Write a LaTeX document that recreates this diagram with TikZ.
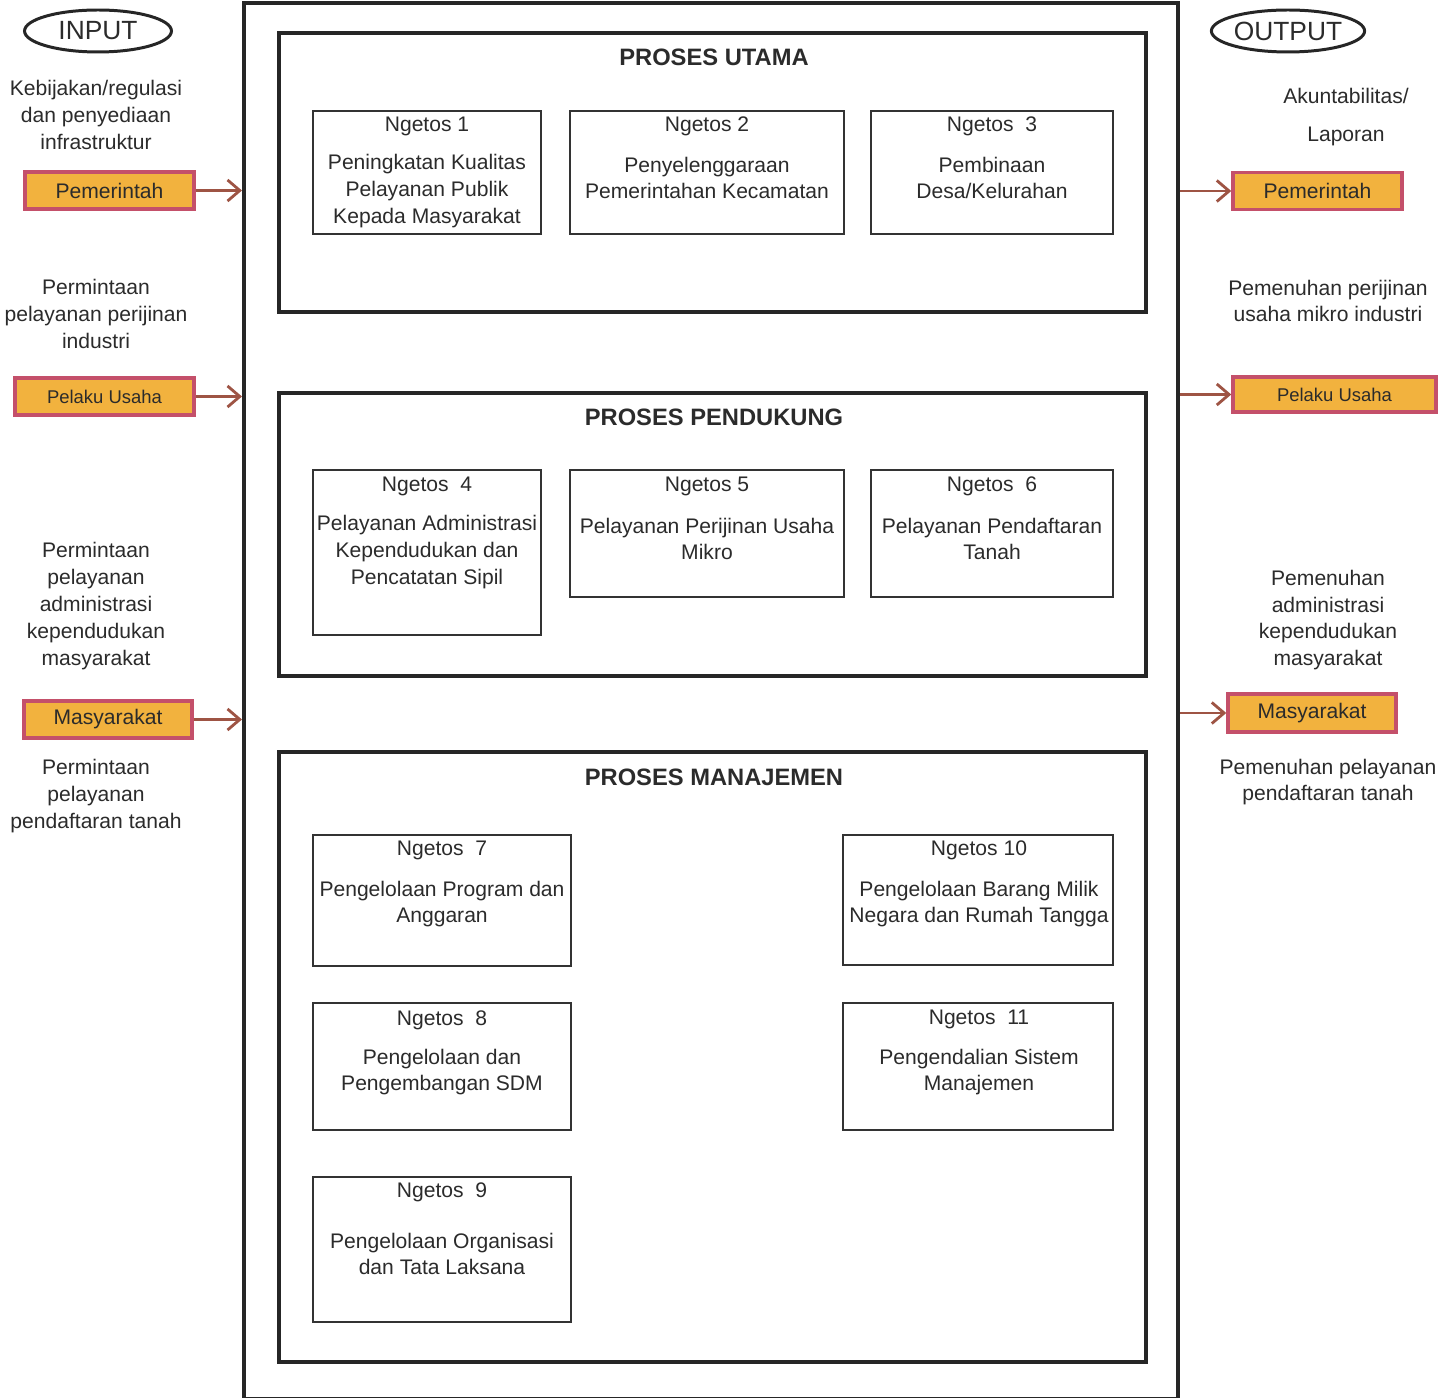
\documentclass[tikz,border=0pt]{standalone}
\usepackage{fontspec}
\setmainfont{Liberation Sans}
\usetikzlibrary{arrows.meta,fit,shapes.geometric}

\definecolor{actfill}{HTML}{F2B23E}
\definecolor{actline}{HTML}{C4506A}
\definecolor{flowcol}{HTML}{9E5444}
\definecolor{txt}{HTML}{2B2B2B}

\tikzset{
  mainbox/.style={draw=black!85, line width=2.3pt, inner sep=0pt},
  procbox/.style={draw=black!85, line width=2.2pt, inner sep=0pt},
  ngbox/.style={draw=black!80, line width=1.1pt, inner sep=0pt},
  actor/.style={draw=actline, fill=actfill, line width=2pt, inner sep=0pt, minimum width=3.38cm, minimum height=0.74cm},
  flow/.style={draw=flowcol, line width=1.6pt, -{Straight Barb[length=7pt,width=12pt,line width=1.6pt]}},
  tag/.style={ellipse, draw=black!85, line width=1.7pt, minimum width=2.94cm, minimum height=0.84cm, inner sep=0pt, font=\fontsize{15}{18}\selectfont},
  title/.style={font=\fontsize{13.5}{16}\selectfont\bfseries},
  note/.style={align=center},
}

\begin{document}
\begin{tikzpicture}[x=0.02cm, y=-0.02cm, every node/.style={text=txt, font=\fontsize{12}{15.3}\selectfont}]
\useasboundingbox (0,0) rectangle (1455,1398);

% main frame and the three process groups
\node[mainbox, fit={(244,3) (1178,1399)}] (main) {};
\node[procbox, fit={(279,33) (1146,312)}] (utama) {};
\node[procbox, fit={(279,393) (1146,676)}] (pendukung) {};
\node[procbox, fit={(279,752) (1146,1362)}] (manajemen) {};
\node[title] (t1) at (714,57) {PROSES UTAMA};
\node[title] (t2) at (714,417) {PROSES PENDUKUNG};
\node[title] (t3) at (714,777) {PROSES MANAJEMEN};

% proses utama
\node[ngbox, fit={(313,111) (541,234)}] (n1) {};
\node (n1h) at (427,126) {Ngetos 1};
\node[note] (n1b) at (427,191) {Peningkatan Kualitas\\Pelayanan Publik\\Kepada Masyarakat};
\node[ngbox, fit={(570,111) (844,234)}] (n2) {};
\node (n2h) at (707,126) {Ngetos 2};
\node[note] (n2b) at (707,178) {Penyelenggaraan\\Pemerintahan Kecamatan};
\node[ngbox, fit={(871,111) (1113,234)}] (n3) {};
\node (n3h) at (992,126) {Ngetos~~3};
\node[note] (n3b) at (992,178) {Pembinaan\\Desa/Kelurahan};

% proses pendukung
\node[ngbox, fit={(313,470) (541,635)}] (n4) {};
\node (n4h) at (427,486) {Ngetos~~4};
\node[note] (n4b) at (427,552) {Pelayanan Administrasi\\Kependudukan dan\\Pencatatan Sipil};
\node[ngbox, fit={(570,470) (844,597)}] (n5) {};
\node (n5h) at (707,486) {Ngetos 5};
\node[note] (n5b) at (707,539) {Pelayanan Perijinan Usaha\\Mikro};
\node[ngbox, fit={(871,470) (1113,597)}] (n6) {};
\node (n6h) at (992,486) {Ngetos~~6};
\node[note] (n6b) at (992,539) {Pelayanan Pendaftaran\\Tanah};

% proses manajemen
\node[ngbox, fit={(313,835) (571,966)}] (n7) {};
\node (n7h) at (442,850) {Ngetos~~7};
\node[note] (n7b) at (442,904) {Pengelolaan Program dan\\Anggaran};
\node[ngbox, fit={(313,1003) (571,1130)}] (n8) {};
\node (n8h) at (442,1020) {Ngetos~~8};
\node[note] (n8b) at (442,1072) {Pengelolaan dan\\Pengembangan SDM};
\node[ngbox, fit={(313,1177) (571,1322)}] (n9) {};
\node (n9h) at (442,1192) {Ngetos~~9};
\node[note] (n9b) at (442,1254) {Pengelolaan Organisasi\\dan Tata Laksana};
\node[ngbox, fit={(843,835) (1113,965)}] (n10) {};
\node (n10h) at (979,850) {Ngetos 10};
\node[note] (n10b) at (979,904) {Pengelolaan Barang Milik\\Negara dan Rumah Tangga};
\node[ngbox, fit={(843,1003) (1113,1130)}] (n11) {};
\node (n11h) at (979,1019) {Ngetos~~11};
\node[note] (n11b) at (979,1072) {Pengendalian Sistem\\Manajemen};

% input side
\node[tag] (input) at (98,31) {INPUT};
\node[note] (in1) at (96,115) {Kebijakan/regulasi\\dan penyediaan\\infrastruktur};
\node[actor] (pem-in) at (109.5,190.5) {Pemerintah};
\node[note] (in2) at (96,314) {Permintaan\\pelayanan perijinan\\industri};
\node[actor, minimum width=3.58cm, font=\fontsize{10.5}{12}\selectfont] (usaha-in) at (104.5,396.5) {Pelaku Usaha};
\node[note] (in3) at (96,606) {Permintaan\\pelayanan\\administrasi\\kependudukan\\masyarakat};
\node[actor, minimum width=3.36cm] (mas-in) at (108,719.5) {Masyarakat};
\node[note] (in4) at (96,796) {Permintaan\\pelayanan\\pendaftaran tanah};

% output side
\node[tag] (output) at (1288,31) {OUTPUT};
\node[note] (out1) at (1346,117) {Akuntabilitas/\\[6pt]Laporan};
\node[actor] (pem-out) at (1317.5,191) {Pemerintah};
\node[note] (out2) at (1328,301) {Pemenuhan perijinan\\usaha mikro industri};
\node[actor, minimum width=4.06cm, minimum height=0.7cm, font=\fontsize{10.5}{12}\selectfont] (usaha-out) at (1334.5,394.5) {Pelaku Usaha};
\node[note] (out3) at (1328,620) {Pemenuhan\\administrasi\\kependudukan\\masyarakat};
\node[actor, minimum width=3.36cm, minimum height=0.76cm] (mas-out) at (1312,713) {Masyarakat};
\node[note] (out4) at (1328,782) {Pemenuhan pelayanan\\pendaftaran tanah};

% flows
\draw[flow] (pem-in) -- (pem-in -| main.west);
\draw[flow] (usaha-in) -- (usaha-in -| main.west);
\draw[flow] (mas-in) -- (mas-in -| main.west);
\draw[flow] (main.east |- pem-out) -- (pem-out);
\draw[flow] (main.east |- usaha-out) -- (usaha-out);
\draw[flow] (main.east |- mas-out) -- (mas-out);
\end{tikzpicture}
\end{document}
